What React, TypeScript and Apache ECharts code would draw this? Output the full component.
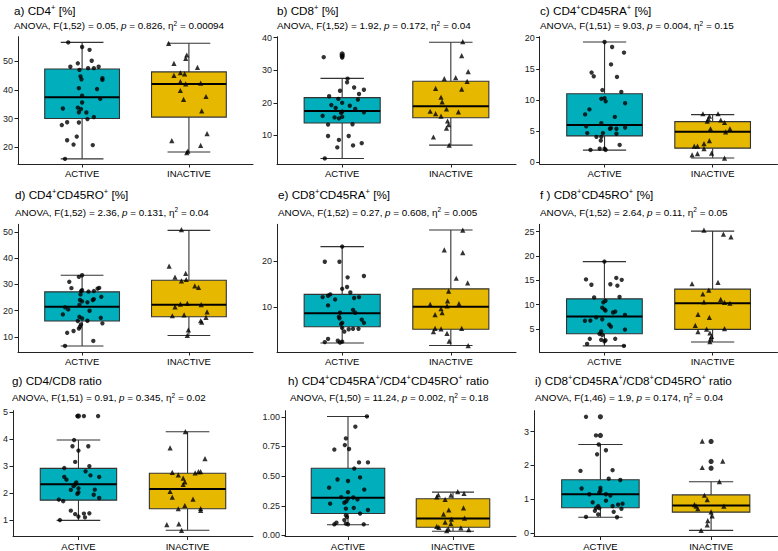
import React, { useEffect, useRef } from 'react';
import * as echarts from 'echarts';

const categories = ['ACTIVE', 'INACTIVE'];

// Points: [horizontal jitter offset in category units, value]
const aActive = [[-0.13,56.6],[0,55.0],[0.07,54.0],[0.09,50.2],[-0.04,49.3],[-0.11,48.1],[-0.025,47.0],[0.056,47.6],[0.11,47.6],[0.155,48.1],[-0.015,44.7],[-0.006,43.7],[0.19,44.1],[0.19,43.5],[-0.03,40.6],[0.14,40.3],[0,38.0],[0.17,36.9],[0,35.6],[-0.18,33.5],[-0.04,33.8],[-0.01,33.3],[-0.03,32.2],[0.04,32.1],[0.11,30.5],[0.05,29.8],[-0.14,28.7],[-0.03,28.6],[-0.19,27.7],[-0.05,23.7],[-0.14,22.4],[-0.08,20.9],[0.1,20.7],[-0.16,15.9]];
const aInactive = [[-0.19,56.3],[-0.14,49.3],[-0.02,52.2],[-0.03,51.0],[0.08,47.9],[-0.14,45.1],[-0.08,46.0],[-0.04,45.6],[-0.08,42.9],[-0.03,42.1],[0.11,42.4],[-0.08,39.8],[-0.05,36.7],[0.16,37.7],[0.12,32.7],[-0.16,22.3],[0.17,24.7],[0.11,20.6],[-0.01,18.6],[-0.02,18.1]];
const aBoxActive = [15.9, 30.0, 37.4, 47.3, 56.6];
const aBoxInactive = [18.3, 30.5, 42.1, 46.3, 56.3];

const bActive = [[-0.17,34.0],[0,33.9],[0.05,27.4],[0.045,26.3],[0.11,24.7],[0.2,24.0],[-0.02,23.7],[0.155,22.7],[-0.12,22.0],[-0.035,21.2],[0.145,21.0],[0,20.0],[-0.1,19.3],[0.07,19.1],[0.12,18.1],[-0.06,18.4],[0,17.3],[-0.01,16.9],[0.2,17.1],[-0.18,16.0],[-0.07,15.5],[-0.03,15.2],[0,15.7],[-0.13,13.3],[0.095,13.4],[-0.13,9.8],[0.06,9.8],[-0.03,8.6],[0.18,7.6],[0.1,6.9],[-0.045,6.3],[-0.16,2.9]];
const bActiveOut = [35.0, 34.4];
const bInactive = [[0.11,38.8],[0.1,34.5],[0.16,29.6],[-0.06,27.4],[0.045,27.7],[0.15,26.6],[-0.14,24.4],[0.1,24.2],[-0.09,21.7],[-0.08,20.3],[-0.04,18.1],[-0.19,17.4],[0.07,17.2],[-0.14,16.7],[-0.09,15.9],[-0.03,14.4],[-0.02,13.3],[-0.04,12.2],[-0.16,9.5],[-0.015,7.0]];
const bBoxActive = [2.9, 13.8, 17.5, 21.6, 27.5];
const bBoxInactive = [7.0, 15.4, 18.9, 26.6, 38.6];

const cActive = [[0,19.3],[0.07,18.5],[0.18,17.6],[0.06,15.7],[-0.12,14.4],[-0.1,13.8],[0.115,13.7],[-0.02,11.6],[0.155,11.3],[-0.03,10.2],[0,10.3],[0.01,9.8],[0.19,9.5],[-0.14,8.5],[-0.18,7.7],[0.095,7.3],[-0.03,6.3],[-0.17,5.8],[0.05,5.4],[0.06,5.5],[0.11,5.4],[0.19,5.6],[-0.16,4.7],[-0.015,4.7],[0.11,4.6],[-0.075,4.1],[-0.03,4.1],[-0.035,3.5],[0.14,2.8],[-0.045,2.2],[0,2.2],[0.01,2.0],[-0.13,2.0]];
const cInactive = [[-0.09,7.8],[0.05,7.8],[-0.03,7.4],[-0.04,7.0],[-0.05,6.6],[0.075,6.8],[0.11,6.4],[0.16,5.4],[-0.02,5.4],[0.12,4.9],[-0.03,3.5],[-0.08,3.0],[-0.17,2.6],[-0.14,2.6],[-0.08,2.2],[-0.01,1.5],[-0.19,1.2],[-0.14,1.4],[0.11,0.7]];
const cBoxActive = [1.97, 4.25, 6.0, 11.0, 19.3];
const cBoxInactive = [0.7, 2.29, 4.9, 6.54, 7.66];

const dActive = [[0,33.5],[-0.03,32.9],[-0.12,31.0],[-0.1,28.6],[0,27.8],[-0.01,27.5],[0.06,27.3],[0.11,27.5],[0.145,28.4],[0.16,28.7],[-0.015,26.2],[0.18,25.3],[0.11,24.4],[0.1,24.1],[-0.02,24.1],[0,23.6],[0.05,23.2],[-0.025,22.2],[-0.16,21.3],[-0.13,20.5],[0.07,20.0],[-0.18,18.6],[-0.025,17.7],[0,17.1],[0.175,17.3],[0.05,16.2],[-0.04,16.1],[0.19,15.2],[-0.01,14.8],[-0.02,13.9],[-0.03,13.2],[-0.08,12.3],[-0.14,11.6],[0.105,8.5],[-0.16,6.6]];
const dInactive = [[-0.07,50.9],[-0.185,37.0],[-0.13,32.8],[-0.03,34.2],[-0.07,31.4],[-0.025,31.9],[0.055,29.5],[0.09,28.9],[-0.13,21.5],[-0.08,22.5],[-0.015,22.8],[0.115,22.3],[-0.155,18.1],[-0.045,18.4],[0.17,19.6],[0.16,17.5],[0.11,16.2],[0.12,15.7],[-0.005,12.7],[-0.015,10.6]];
const dBoxActive = [6.6, 16.1, 21.5, 27.2, 33.5];
const dBoxInactive = [10.6, 17.7, 22.3, 31.6, 50.6];

const eActive = [[0,23.2],[-0.16,19.9],[-0.025,19.9],[0.2,16.8],[0.05,16.5],[0.045,14.4],[0,14.0],[0.075,13.2],[-0.11,12.8],[-0.13,12.5],[-0.18,12.2],[-0.065,11.7],[0.11,12.0],[0.155,12.2],[-0.13,10.4],[0.1,9.4],[0.12,8.8],[-0.02,8.8],[-0.03,7.9],[-0.025,7.6],[0.18,7.3],[0.2,6.6],[0,6.6],[-0.01,6.3],[0,5.5],[0.06,5.2],[0.1,5.3],[0.15,5.3],[0.02,4.7],[-0.13,3.1],[-0.16,2.4],[-0.04,2.7],[-0.02,2.3],[0,2.5]];
const eInactive = [[0.11,26.8],[-0.06,22.5],[0.11,21.9],[0.05,16.3],[0.155,15.3],[-0.02,13.5],[-0.19,10.6],[-0.03,11.4],[0.075,10.8],[-0.035,10.3],[-0.09,9.7],[-0.145,8.4],[-0.08,8.8],[-0.16,4.7],[-0.09,5.3],[-0.145,5.4],[0.1,5.4],[-0.035,4.3],[-0.015,2.6],[0.16,1.65]];
const eBoxActive = [2.2, 5.75, 8.7, 12.8, 23.2];
const eBoxInactive = [1.65, 5.2, 10.1, 14.0, 26.8];

const fActive = [[0,18.85],[-0.17,15.2],[0.11,15.5],[0.16,15.1],[-0.12,14.1],[0.055,14.2],[0.12,13.9],[-0.095,11.5],[0.14,11.6],[0.01,10.8],[-0.01,10.5],[-0.02,9.4],[0,9.05],[0.01,8.8],[0.08,8.4],[0.1,8.6],[0.19,7.9],[-0.075,7.4],[-0.02,7.0],[-0.18,6.7],[-0.13,6.75],[0.045,5.9],[0.06,5.5],[0.19,4.9],[-0.03,4.5],[-0.045,4.0],[-0.02,3.8],[-0.135,3.0],[0.1,3.0],[-0.03,2.8],[0,2.5],[0.01,2.7],[-0.16,1.95],[0.18,1.55]];
const fInactive = [[-0.08,25.3],[0.1,24.5],[0.17,23.9],[0.05,14.6],[-0.19,14.3],[-0.035,13.0],[-0.09,12.2],[0.075,11.1],[-0.08,10.6],[0.11,10.5],[0.16,10.3],[-0.135,8.0],[-0.03,7.4],[-0.16,5.75],[-0.055,5.0],[0.11,5.1],[-0.135,4.5],[-0.025,4.2],[-0.01,3.5],[-0.02,3.0],[-0.025,2.4]];
const fBoxActive = [1.55, 4.05, 7.6, 11.2, 18.85];
const fBoxInactive = [2.35, 4.95, 10.3, 13.2, 25.1];

const gActive = [[-0.01,4.86],[0.05,4.86],[0.18,4.86],[-0.04,3.97],[-0.055,3.74],[0.09,3.74],[0,3.58],[-0.03,3.16],[0.1,3.0],[-0.13,2.93],[0.065,2.81],[0.11,2.66],[0.19,2.6],[-0.13,2.6],[-0.11,2.5],[-0.02,2.4],[-0.03,2.33],[-0.045,2.26],[0,2.18],[-0.07,2.12],[0.15,2.13],[0,2.03],[-0.01,1.97],[0.14,1.94],[0.19,1.82],[-0.18,1.76],[-0.14,1.7],[-0.07,1.35],[-0.03,1.22],[0.05,1.24],[0.1,1.25],[0,1.13],[0.06,1.1],[-0.17,1.0]];
const gActiveOut = [4.86];
const gInactive = [[-0.02,4.28],[-0.16,3.68],[0.16,3.28],[-0.14,2.77],[-0.085,2.68],[0.07,2.75],[0.1,2.8],[0.12,2.8],[-0.04,2.56],[-0.025,2.42],[-0.04,2.32],[-0.16,2.06],[-0.14,1.85],[0.05,1.78],[-0.025,1.54],[-0.085,1.42],[0.12,1.43],[0.12,1.36],[-0.19,0.83],[-0.08,0.86],[-0.055,0.62]];
const gBoxActive = [0.99, 1.74, 2.33, 2.92, 3.97];
const gBoxInactive = [0.62, 1.42, 2.15, 2.74, 4.28];

const hActive = [[0.18,1.003],[0.07,0.917],[-0.02,0.818],[-0.03,0.762],[0.01,0.729],[-0.13,0.724],[0.105,0.616],[0.19,0.616],[0.06,0.564],[-0.1,0.472],[0,0.459],[0.115,0.489],[-0.18,0.403],[0.155,0.387],[0,0.365],[-0.065,0.323],[0.05,0.32],[0,0.31],[0.09,0.304],[-0.015,0.287],[-0.035,0.276],[-0.17,0.268],[-0.02,0.226],[0.055,0.232],[0.19,0.215],[0.115,0.185],[-0.02,0.171],[-0.01,0.155],[-0.035,0.13],[-0.11,0.108],[-0.13,0.094],[-0.02,0.1],[0,0.094],[0.15,0.094]];
const hInactive = [[0.045,0.37],[0.105,0.354],[-0.14,0.343],[-0.155,0.326],[-0.02,0.34],[-0.075,0.304],[0.1,0.232],[-0.04,0.215],[-0.09,0.18],[0.11,0.146],[-0.015,0.138],[-0.075,0.113],[-0.02,0.1],[-0.155,0.077],[-0.135,0.069],[-0.045,0.055],[0.075,0.064],[0.15,0.05],[-0.06,0.041]];
const hBoxActive = [0.091, 0.185, 0.318, 0.566, 1.003];
const hBoxInactive = [0.036, 0.069, 0.144, 0.31, 0.365];

const iActive = [[-0.13,3.44],[-0.04,2.89],[-0.015,2.62],[0.05,2.45],[-0.03,2.33],[0.11,1.86],[-0.18,1.84],[0.075,1.61],[0.18,1.57],[-0.17,1.32],[0,1.34],[0,1.26],[-0.01,1.2],[-0.1,1.15],[0.05,1.15],[0.09,1.11],[-0.07,0.91],[0.05,0.96],[0.16,0.84],[0.2,0.87],[-0.02,0.8],[0.11,0.8],[-0.04,0.74],[-0.01,0.74],[0.19,0.72],[-0.05,0.66],[0.12,0.63],[-0.02,0.55],[-0.13,0.48],[0.15,0.47]];
const iActiveOut = [3.44, 2.89];
const iInactive = [[-0.08,2.72],[-0.08,1.94],[0.105,2.13],[0.075,1.52],[-0.06,1.12],[-0.035,0.99],[-0.15,0.84],[-0.135,0.8],[0.115,0.8],[-0.12,0.72],[0,0.63],[0.01,0.51],[-0.03,0.37],[-0.035,0.24],[-0.09,0.08]];
const iInactiveOut = [2.71, 2.12, 1.92];
const iBoxActive = [0.47, 0.75, 1.15, 1.58, 2.62];
const iBoxInactive = [0.08, 0.62, 0.82, 1.13, 1.52];

const titles = [
  'a) CD4{s|+} [%]',
  'b) CD8{s|+} [%]',
  'c) CD4{s|+}CD45RA{s|+} [%]',
  'd) CD4{s|+}CD45RO{s|+} [%]',
  'e) CD8{s|+}CD45RA{s|+} [%]',
  'f ) CD8{s|+}CD45RO{s|+} [%]',
  'g) CD4/CD8 ratio',
  'h) CD4{s|+}CD45RA{s|+}/CD4{s|+}CD45RO{s|+} ratio',
  'i) CD8{s|+}CD45RA{s|+}/CD8{s|+}CD45RO{s|+} ratio',
];
const subtitles = [
  'ANOVA, F(1,52) = 0.05, {i|p} = 0.826, η{s|2} = 0.00094',
  'ANOVA, F(1,52) = 1.92, {i|p} = 0.172, η{s|2} = 0.04',
  'ANOVA, F(1,51) = 9.03, {i|p} = 0.004, η{s|2} = 0.15',
  'ANOVA, F(1,52) = 2.36, {i|p} = 0.131, η{s|2} = 0.04',
  'ANOVA, F(1,52) = 0.27, {i|p} = 0.608, η{s|2} = 0.005',
  'ANOVA, F(1,52) = 2.64, {i|p} = 0.11, η{s|2} = 0.05',
  'ANOVA, F(1,51) = 0.91, {i|p} = 0.345, η{s|2} = 0.02',
  'ANOVA, F(1,50) = 11.24, {i|p} = 0.002, η{s|2} = 0.18',
  'ANOVA, F(1,46) = 1.9, {i|p} = 0.174, η{s|2} = 0.04',
];
const yTicks = [
  [20, 30, 40, 50],
  [10, 20, 30, 40],
  [0, 5, 10, 15, 20],
  [10, 20, 30, 40, 50],
  [10, 20],
  [5, 10, 15, 20, 25],
  [1, 2, 3, 4, 5],
  [0, 0.25, 0.5, 0.75, 1],
  [0, 1, 2, 3],
];
const yMin = [14.1, 1.2, -0.25, 4.3, 0.25, 0.3, 0.39, -0.0085, -0.1];
const yMax = [58.6, 40.3, 20.15, 52.9, 28.05, 26.5, 5.06, 1.0515, 3.62];

const pointsActive = [aActive, bActive, cActive, dActive, eActive, fActive, gActive, hActive, iActive];
const pointsInactive = [aInactive, bInactive, cInactive, dInactive, eInactive, fInactive, gInactive, hInactive, iInactive];
const outActive = [[], bActiveOut, [], [], [], [], gActiveOut, [], iActiveOut];
const outInactive = [[], [], [], [], [], [], [], [], iInactiveOut];
const boxesActive = [aBoxActive, bBoxActive, cBoxActive, dBoxActive, eBoxActive, fBoxActive, gBoxActive, hBoxActive, iBoxActive];
const boxesInactive = [aBoxInactive, bBoxInactive, cBoxInactive, dBoxInactive, eBoxInactive, fBoxInactive, gBoxInactive, hBoxInactive, iBoxInactive];

// layout (pixels)
const plotLeft = [14, 277, 539.7, 14, 277, 539.5, 9.5, 285, 534];
const plotRight = [253, 516, 777.5, 253, 516, 777.5, 253, 516, 777.5];
const titleLeft = [14, 277, 540, 15, 278, 540, 12, 288, 535];
const subLeft = [14, 277, 540, 15, 278, 540, 12, 290, 535];
const rowTop = [36.7, 224.3, 410.7];
const rowBottom = [164, 352, 538.5];
const titleCenter = [10, 194.5, 380];
const subCenter = [25.5, 212, 397.5];

const FONT = '"Liberation Sans", Arial, Helvetica, sans-serif';
const TEAL = '#00AFBB';
const GOLD = '#E7B800';

function renderBox(params: any, api: any) {
  const x = api.value(0);
  const lo = api.value(1), q1 = api.value(2), md = api.value(3), q3 = api.value(4), hi = api.value(5);
  const fill = api.value(6) === 0 ? TEAL : GOLD;
  const bw = api.size([0.35, 0])[0];
  const cw = api.size([0.2, 0])[0];
  const pLo = api.coord([x, lo]);
  const cx = pLo[0];
  const yLo = pLo[1];
  const yQ1 = api.coord([x, q1])[1];
  const yMd = api.coord([x, md])[1];
  const yQ3 = api.coord([x, q3])[1];
  const yHi = api.coord([x, hi])[1];
  const ls = { stroke: '#333', lineWidth: 1.1 };
  return {
    type: 'group',
    children: [
      { type: 'line', shape: { x1: cx, y1: yLo, x2: cx, y2: yQ1 }, style: ls },
      { type: 'line', shape: { x1: cx, y1: yQ3, x2: cx, y2: yHi }, style: ls },
      { type: 'line', shape: { x1: cx - cw, y1: yLo, x2: cx + cw, y2: yLo }, style: ls },
      { type: 'line', shape: { x1: cx - cw, y1: yHi, x2: cx + cw, y2: yHi }, style: ls },
      { type: 'rect', shape: { x: cx - bw, y: yQ3, width: 2 * bw, height: yQ1 - yQ3 }, style: { fill, stroke: '#333', lineWidth: 1.1 } },
      { type: 'line', shape: { x1: cx - bw, y1: yMd, x2: cx + bw, y2: yMd }, style: { stroke: '#000', lineWidth: 2 } },
    ],
  };
}

function buildOption() {
  const grid: any[] = [];
  const xAxis: any[] = [];
  const yAxis: any[] = [];
  const series: any[] = [];
  const title: any[] = [];
  for (let i = 0; i < 9; i++) {
    const row = Math.floor(i / 3);
    grid.push({
      left: plotLeft[i],
      top: rowTop[row],
      width: plotRight[i] - plotLeft[i],
      height: rowBottom[row] - rowTop[row],
    });
    xAxis.push({
      type: 'value',
      gridIndex: i,
      min: 0.4,
      max: 2.6,
      splitLine: { show: false },
      axisLine: { show: true, onZero: false, lineStyle: { color: '#222', width: 1 } },
      axisTick: { show: true, customValues: [1, 2], length: 3.5, lineStyle: { color: '#222', width: 1 } },
      axisLabel: {
        customValues: [1, 2],
        formatter: (v: number) => (Math.abs(v - 1) < 1e-6 ? categories[0] : categories[1]),
        color: '#000',
        fontSize: 9.5,
        fontFamily: FONT,
        margin: 4.5,
      },
    });
    yAxis.push({
      type: 'value',
      gridIndex: i,
      min: yMin[i],
      max: yMax[i],
      splitLine: { show: false },
      axisLine: { show: true, onZero: false, lineStyle: { color: '#222', width: 1 } },
      axisTick: { show: true, customValues: yTicks[i], length: 3.5, lineStyle: { color: '#222', width: 1 } },
      axisLabel: {
        customValues: yTicks[i],
        formatter: (v: number) => (i === 7 ? v.toFixed(2) : String(v)),
        color: '#222',
        fontSize: 9,
        fontFamily: FONT,
        margin: 5,
      },
    });
    series.push({
      type: 'custom',
      xAxisIndex: i,
      yAxisIndex: i,
      renderItem: renderBox,
      encode: { x: 0, y: [1, 2, 3, 4, 5] },
      data: [
        [1, ...boxesActive[i], 0],
        [2, ...boxesInactive[i], 1],
      ],
      z: 2,
      silent: true,
    });
    const outs = [
      ...outActive[i].map((v: number) => [1, v]),
      ...outInactive[i].map((v: number) => [2, v]),
    ];
    if (outs.length) {
      series.push({
        type: 'scatter',
        xAxisIndex: i,
        yAxisIndex: i,
        data: outs,
        symbol: 'circle',
        symbolSize: 5.2,
        itemStyle: { color: '#000' },
        z: 3,
        silent: true,
      });
    }
    series.push({
      type: 'scatter',
      xAxisIndex: i,
      yAxisIndex: i,
      data: pointsActive[i].map((p) => [1 + p[0], p[1]]),
      symbol: 'circle',
      symbolSize: 4.4,
      itemStyle: { color: '#000' },
      z: 4,
      silent: true,
    });
    series.push({
      type: 'scatter',
      xAxisIndex: i,
      yAxisIndex: i,
      data: pointsInactive[i].map((p) => [2 + p[0], p[1]]),
      symbol: 'triangle',
      symbolSize: 5.2,
      itemStyle: { color: '#000' },
      z: 4,
      silent: true,
    });
    title.push({
      text: titles[i],
      left: titleLeft[i],
      top: titleCenter[row] - 7,
      padding: 0,
      textStyle: {
        fontFamily: FONT,
        fontSize: 11.7,
        fontWeight: 'normal',
        color: '#000',
        lineHeight: 14,
        rich: {
          s: { fontFamily: FONT, fontSize: 7.5, lineHeight: 6, verticalAlign: 'top', color: '#000' },
        },
      },
    });
    title.push({
      text: subtitles[i],
      left: subLeft[i],
      top: subCenter[row] - 6,
      padding: 0,
      textStyle: {
        fontFamily: FONT,
        fontSize: 9.9,
        fontWeight: 'normal',
        color: '#000',
        lineHeight: 12,
        rich: {
          s: { fontFamily: FONT, fontSize: 6.5, lineHeight: 5, verticalAlign: 'top', color: '#000' },
          i: { fontFamily: FONT, fontSize: 9.9, fontStyle: 'italic', color: '#000', lineHeight: 12 },
        },
      },
    });
  }
  return {
    animation: false,
    backgroundColor: '#fff',
    title,
    grid,
    xAxis,
    yAxis,
    series,
  };
}

export default function App() {
  const ref = useRef<HTMLDivElement>(null);
  useEffect(() => {
    document.body.style.margin = '0';
    if (!ref.current) return;
    const chart = echarts.init(ref.current, undefined, { renderer: 'svg' });
    chart.setOption(buildOption() as any);
    return () => chart.dispose();
  }, []);
  return <div ref={ref} style={{ position: 'absolute', left: 0, top: 0, width: 778, height: 551 }} />;
}
